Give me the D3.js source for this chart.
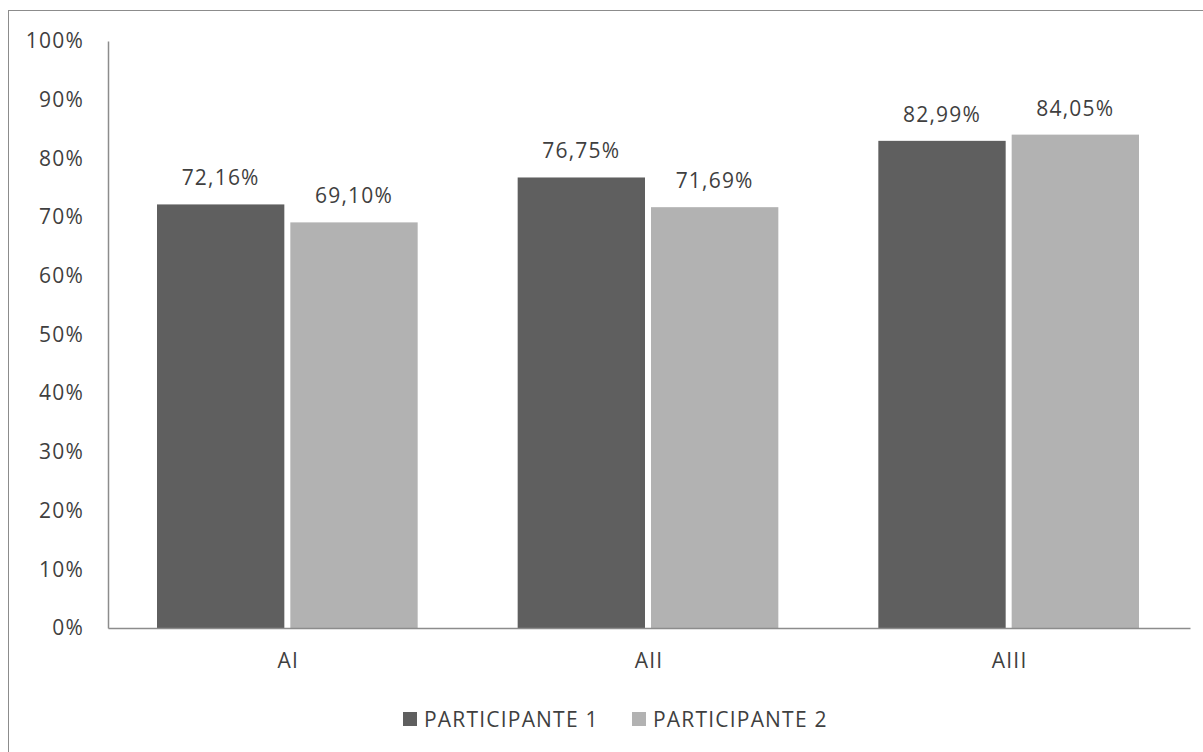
<!DOCTYPE html>
<html>
<head>
<meta charset="utf-8">
<script src="https://cdn.jsdelivr.net/npm/d3@7"></script>
<style>
    body { margin: 0; background: #fff; }
    svg text { font-family: "Open Sans", sans-serif; fill: #3f3f3f; letter-spacing: 1.2px; }
</style>
</head>
<body>
<div id="chart"></div>
<script>
const categories = ['AI', 'AII', 'AIII'];
const seriesNames = ['PARTICIPANTE 1', 'PARTICIPANTE 2'];
const participante1 = [72.16, 76.75, 82.99];
const participante2 = [69.10, 71.69, 84.05];
const yTicks = [0, 10, 20, 30, 40, 50, 60, 70, 80, 90, 100];
const colors = ['#5f5f5f', '#b2b2b2'];

const width = 1203, height = 752;
const margin = {top: 41, right: 13, bottom: 124, left: 108};
const innerW = width - margin.left - margin.right;
const innerH = height - margin.top - margin.bottom;

const svg = d3.select('#chart').append('svg')
    .attr('width', width)
    .attr('height', height);

// outer frame (right and bottom edges fall outside the picture)
svg.append('rect')
    .attr('x', 8.5).attr('y', 10.5)
    .attr('width', 1230).attr('height', 800)
    .attr('fill', 'none')
    .attr('stroke', '#8c8c8c');

const chart = svg.append('g')
    .attr('transform', `translate(${margin.left}, ${margin.top})`);

const xScale = d3.scaleBand()
    .domain(categories)
    .range([0, innerW]);

const xInner = d3.scaleBand()
    .domain(seriesNames)
    .range([49, xScale.bandwidth() - 51])
    .paddingInner(0.045);

const yScale = d3.scaleLinear()
    .domain([0, 100])
    .range([innerH, 0]);

const data = categories.map((c, i) => ({
    cat: c,
    values: [participante1[i], participante2[i]]
}));

// y axis
const yAxis = d3.axisLeft(yScale)
    .tickValues(yTicks)
    .tickSize(0)
    .tickPadding(24)
    .tickFormat(d => d + '%');

const yAxisGroup = chart.append('g').call(yAxis);
yAxisGroup.select('.domain').attr('stroke', '#8c8c8c').attr('stroke-width', 1.5);
yAxisGroup.selectAll('text')
    .style('font-size', '21px')
    .attr('fill', '#3f3f3f');

const groups = chart.selectAll('.grp')
    .data(data)
    .join('g')
    .attr('class', 'grp')
    .attr('transform', d => `translate(${xScale(d.cat)}, 0)`);

groups.selectAll('rect')
    .data(d => d.values.map((v, j) => ({name: seriesNames[j], v: v, j: j})))
    .join('rect')
    .attr('x', d => xInner(d.name))
    .attr('width', xInner.bandwidth())
    .attr('y', d => yScale(d.v))
    .attr('height', d => innerH - yScale(d.v))
    .attr('fill', d => colors[d.j]);

groups.selectAll('.lbl')
    .data(d => d.values.map((v, j) => ({name: seriesNames[j], v: v})))
    .join('text')
    .attr('class', 'lbl')
    .attr('x', d => xInner(d.name) + xInner.bandwidth() / 2)
    .attr('y', d => yScale(d.v) - 19)
    .attr('text-anchor', 'middle')
    .style('font-size', '21px')
    .text(d => d.v.toFixed(2).replace('.', ',') + '%');

// x axis
const xAxis = d3.axisBottom(xScale).tickSize(0).tickPadding(25);
const xAxisGroup = chart.append('g')
    .attr('transform', `translate(0, ${innerH})`)
    .call(xAxis);
xAxisGroup.select('.domain').attr('stroke', '#8c8c8c').attr('stroke-width', 1.5);
xAxisGroup.selectAll('text').style('font-size', '21px').attr('fill', '#3f3f3f');

// legend
const legendX = [403, 632];
const legend = svg.append('g');
seriesNames.forEach((name, i) => {
    legend.append('rect')
        .attr('x', legendX[i]).attr('y', 712)
        .attr('width', 14).attr('height', 14)
        .attr('fill', colors[i]);
    legend.append('text')
        .attr('x', legendX[i] + 21).attr('y', 727)
        .style('font-size', '21px')
        .text(name);
});
</script>
</body>
</html>
